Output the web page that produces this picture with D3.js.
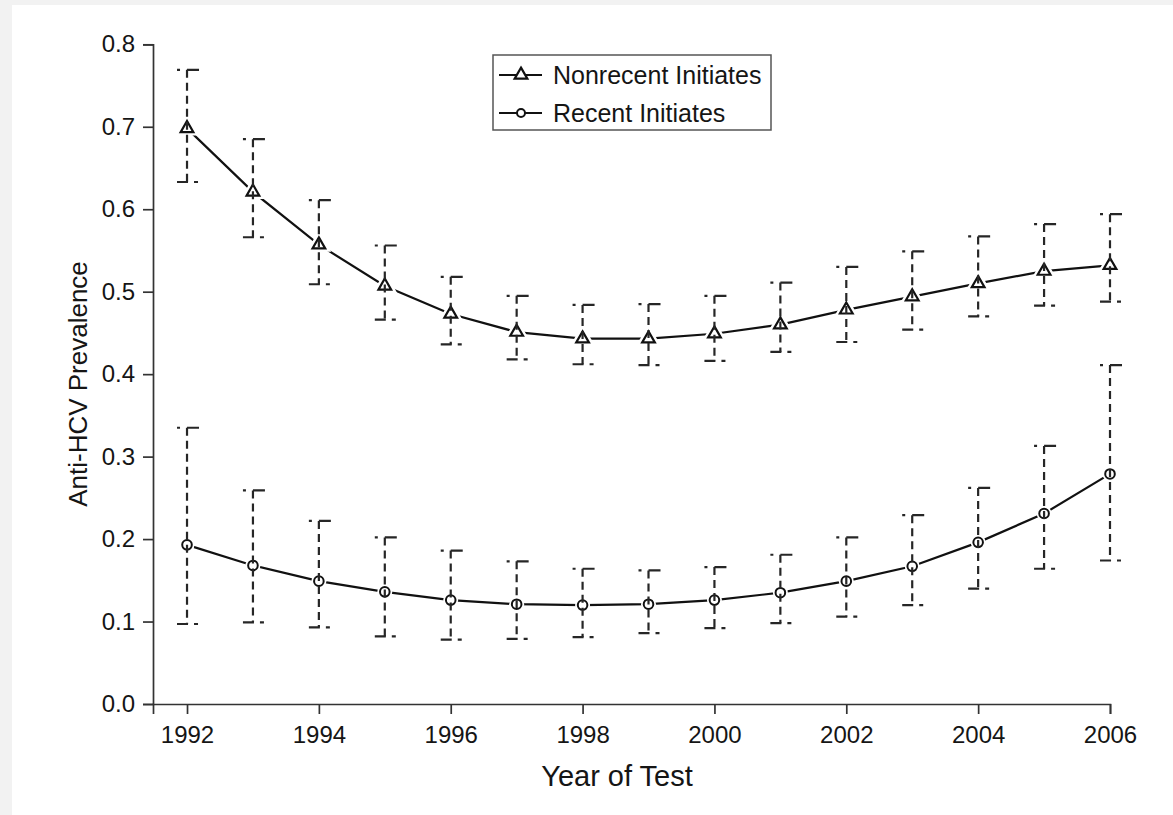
<!DOCTYPE html>
<html>
<head>
<meta charset="utf-8">
<script src="https://cdn.jsdelivr.net/npm/d3@7"></script>
<style>
  html, body { margin: 0; padding: 0; background: #f2f2f2; }
  svg { display: block; }
</style>
</head>
<body>
<svg id="chart"></svg>
<script>
// years of test
const years = [1992, 1993, 1994, 1995, 1996, 1997, 1998, 1999, 2000, 2001, 2002, 2003, 2004, 2005, 2006]

// nonrecent initiates (triangles)
const nonrecent = [0.698, 0.621, 0.557, 0.507, 0.473, 0.451, 0.443, 0.443, 0.449, 0.460, 0.478, 0.494, 0.510, 0.525, 0.532]
const nonrecentHi = [0.769, 0.685, 0.611, 0.556, 0.518, 0.495, 0.484, 0.485, 0.495, 0.511, 0.530, 0.549, 0.567, 0.582, 0.594]
const nonrecentLo = [0.633, 0.566, 0.509, 0.466, 0.436, 0.418, 0.412, 0.411, 0.416, 0.427, 0.439, 0.454, 0.470, 0.483, 0.488]

// recent initiates (circles)
const recent = [0.193, 0.168, 0.149, 0.136, 0.126, 0.121, 0.120, 0.121, 0.126, 0.135, 0.149, 0.167, 0.196, 0.231, 0.279]
const recentHi = [0.335, 0.259, 0.222, 0.202, 0.186, 0.173, 0.164, 0.162, 0.166, 0.181, 0.202, 0.229, 0.262, 0.313, 0.411]
const recentLo = [0.097, 0.099, 0.093, 0.082, 0.078, 0.079, 0.081, 0.086, 0.092, 0.098, 0.106, 0.120, 0.140, 0.164, 0.174]

const xTicks = [1992, 1994, 1996, 1998, 2000, 2002, 2004, 2006]
const yTicks = [0.0, 0.1, 0.2, 0.3, 0.4, 0.5, 0.6, 0.7, 0.8]

const seriesNames = ['Nonrecent Initiates', 'Recent Initiates']

let width = 1173
let height = 815
let ink = '#111'
let axisInk = '#333'
let textInk = '#151515'
let font = 'Arial, "Liberation Sans", Helvetica, sans-serif'

let svg = d3.select('#chart')
  .attr('width', width)
  .attr('height', height)
  .attr('style', 'font-family: ' + font)

svg.append('rect')
  .attr('x', 12).attr('y', 5)
  .attr('width', width - 12).attr('height', height - 5)
  .attr('fill', '#fff')

let x = d3.scaleLinear().domain([1991.484, 2006]).range([153, 1110])
let y = d3.scaleLinear().domain([0, 0.8]).range([704, 44.3])

let rows = years.map((yr, i) => ({
  year: yr,
  nr: nonrecent[i], nrHi: nonrecentHi[i], nrLo: nonrecentLo[i],
  r: recent[i], rHi: recentHi[i], rLo: recentLo[i]
}))

// axes
let xAxis = svg.append('g')
  .attr('transform', 'translate(0,' + y(0) + ')')
  .call(d3.axisBottom(x).tickValues(xTicks).tickFormat(d3.format('d'))
    .tickSize(10).tickSizeOuter(10).tickPadding(12))

let yAxis = svg.append('g')
  .attr('transform', 'translate(' + x.range()[0] + ',0)')
  .call(d3.axisLeft(y).tickValues(yTicks).tickFormat(d3.format('.1f'))
    .tickSize(10).tickSizeOuter(10).tickPadding(8))

;[xAxis, yAxis].forEach(a => {
  a.selectAll('path, line').attr('stroke', axisInk).attr('stroke-width', 1.7)
  a.selectAll('text').attr('fill', textInk).attr('font-size', 24).attr('font-family', font)
})

svg.append('text')
  .text('Year of Test')
  .attr('x', 617).attr('y', 786)
  .attr('text-anchor', 'middle')
  .attr('font-size', 29).attr('fill', textInk)

svg.append('text')
  .text('Anti-HCV Prevalence')
  .attr('transform', 'translate(87,' + 384 + ') rotate(-90)')
  .attr('text-anchor', 'middle')
  .attr('font-size', 26).attr('fill', textInk)

// lines
let lineNr = d3.line().x(d => x(d.year)).y(d => y(d.nr))
let lineR = d3.line().x(d => x(d.year)).y(d => y(d.r))

svg.append('path').datum(rows).attr('d', lineNr)
  .attr('fill', 'none').attr('stroke', ink).attr('stroke-width', 2.2)
svg.append('path').datum(rows).attr('d', lineR)
  .attr('fill', 'none').attr('stroke', ink).attr('stroke-width', 2.2)

// markers with a white halo so the line stops short of them
let tri = d3.symbol().type(d3.symbolTriangle).size(70)

let markers = svg.append('g')

markers.selectAll('.nrHalo').data(rows).enter()
  .append('path')
  .attr('d', tri)
  .attr('transform', d => 'translate(' + x(d.year) + ',' + y(d.nr) + ')')
  .attr('fill', '#fff').attr('stroke', '#fff').attr('stroke-width', 7)

markers.selectAll('.nr').data(rows).enter()
  .append('path')
  .attr('d', tri)
  .attr('transform', d => 'translate(' + x(d.year) + ',' + y(d.nr) + ')')
  .attr('fill', '#fff').attr('stroke', ink).attr('stroke-width', 2.2)

markers.selectAll('.rHalo').data(rows).enter()
  .append('circle')
  .attr('cx', d => x(d.year)).attr('cy', d => y(d.r)).attr('r', 7.5)
  .attr('fill', '#fff')

markers.selectAll('.r').data(rows).enter()
  .append('circle')
  .attr('cx', d => x(d.year)).attr('cy', d => y(d.r)).attr('r', 4.8)
  .attr('fill', '#fff').attr('stroke', ink).attr('stroke-width', 2)

// dashed error bars, caps drawn as broken segments like the original
function errorBars(hiKey, loKey) {
  let g = svg.append('g')
    .attr('stroke', '#262626').attr('stroke-width', 2.2).attr('fill', 'none')

  g.selectAll('.stem').data(rows).enter()
    .append('path')
    .attr('d', d => 'M' + x(d.year) + ',' + y(d[hiKey]) + 'V' + y(d[loKey]))
    .attr('stroke-dasharray', '8,5')

  g.selectAll('.top').data(rows).enter()
    .append('path')
    .attr('d', d => 'M' + (x(d.year) - 10) + ',' + y(d[hiKey]) + 'H' + (x(d.year) + 12))
    .attr('stroke-dasharray', '3,7,12,20')

  g.selectAll('.bot').data(rows).enter()
    .append('path')
    .attr('d', d => 'M' + (x(d.year) - 10) + ',' + y(d[loKey]) + 'H' + (x(d.year) + 12))
    .attr('stroke-dasharray', '11,6,4,20')
}

errorBars('nrHi', 'nrLo')
errorBars('rHi', 'rLo')

// legend
let legend = svg.append('g').attr('transform', 'translate(493,55)')

legend.append('rect')
  .attr('width', 278).attr('height', 75)
  .attr('fill', '#fff').attr('stroke', '#555').attr('stroke-width', 1.5)

let items = legend.selectAll('g.item')
  .data(seriesNames)
  .enter()
  .append('g')
  .attr('transform', (d, i) => 'translate(0,' + (20 + i * 38) + ')')

items.append('line')
  .attr('x1', 6).attr('x2', 49)
  .attr('stroke', ink).attr('stroke-width', 2.2)

items.each(function(d, i) {
  let it = d3.select(this)
  if (i === 0) {
    it.append('path').attr('d', tri).attr('transform', 'translate(28,0)')
      .attr('fill', '#fff').attr('stroke', ink).attr('stroke-width', 2.2)
  } else {
    it.append('circle').attr('cx', 28).attr('r', 4)
      .attr('fill', '#fff').attr('stroke', ink).attr('stroke-width', 2)
  }
})

items.append('text')
  .text(d => d)
  .attr('x', 60).attr('y', 9)
  .attr('font-size', 25).attr('fill', textInk)
</script>
</body>
</html>
